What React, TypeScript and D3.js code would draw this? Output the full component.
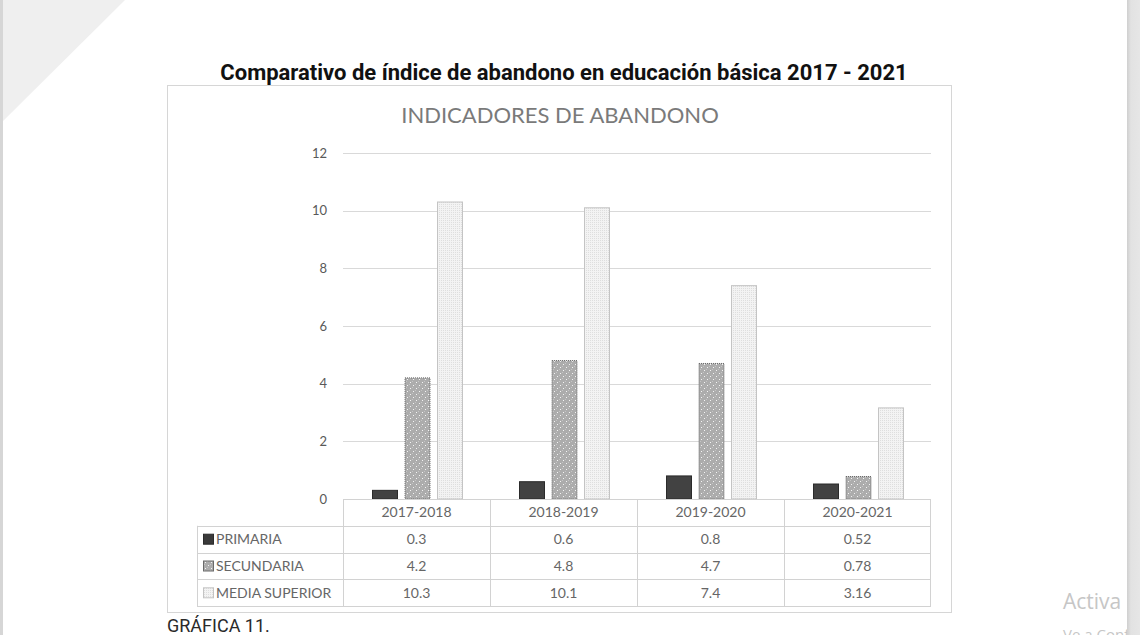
import React from "react";
import * as d3 from "d3";

const periods = ["2017-2018", "2018-2019", "2019-2020", "2020-2021"];
const seriesNames = ["PRIMARIA", "SECUNDARIA", "MEDIA SUPERIOR"];
const primaria = [0.3, 0.6, 0.8, 0.52];
const secundaria = [4.2, 4.8, 4.7, 0.78];
const mediaSuperior = [10.3, 10.1, 7.4, 3.16];
const yTicks = [0, 2, 4, 6, 8, 10, 12];

const seriesValues = [primaria, secundaria, mediaSuperior];
const fills = ["#424242", "url(#patSec)", "url(#patMed)"];
const strokes = ["#2b2b2b", "#6a6a6a", "#c4c4c4"];
const keyFills = ["#3a3a3a", "url(#patSec)", "url(#patMed)"];

const W = 1140;
const H = 635;
const chartFont = "Lato, 'Open Sans', sans-serif";

export default function App() {
  const x = d3.scaleBand().domain(periods).range([343, 931]);
  const xInner = d3
    .scaleBand()
    .domain(seriesNames)
    .range([29, 120])
    .paddingInner(0.2);
  const y = d3.scaleLinear().domain([0, 12]).range([499, 153]);

  const tableTop = 499;
  const rowH = 26.8;
  const labelLeft = 197;

  return (
    <svg
      width={W}
      height={H}
      style={{ position: "absolute", left: 0, top: 0, display: "block" }}
    >
      <defs>
        <pattern id="patSec" width="6" height="6" patternUnits="userSpaceOnUse">
          <rect width="6" height="6" fill="#acacac" />
          <rect x="0" y="0" width="1" height="1" fill="#c4c4c4" />
          <rect x="3" y="3" width="1" height="1" fill="#c4c4c4" />
          <rect x="1" y="4" width="1" height="1" fill="#f4f4f4" />
          <rect x="4" y="1" width="1" height="1" fill="#f4f4f4" />
        </pattern>
        <pattern id="patMed" width="2" height="2" patternUnits="userSpaceOnUse">
          <rect width="2" height="2" fill="#f3f3f3" />
          <rect x="0" y="0" width="1" height="1" fill="#dedede" />
        </pattern>
        <linearGradient id="rightStrip" x1="0" x2="1" y1="0" y2="0">
          <stop offset="0" stopColor="#cfcfcf" />
          <stop offset="0.3" stopColor="#e2e2e2" />
          <stop offset="1" stopColor="#e6e6e6" />
        </linearGradient>
      </defs>

      <rect width={W} height={H} fill="#ffffff" />
      <polygon points="0,0 125,0 0,124" fill="#efefef" />
      <rect x={0} y={0} width={3} height={H} fill="#d6d6d6" />

      {/* watermark, cut by the window edge as in the screenshot */}
      <text
        x={1063}
        y={609}
        fontFamily="'Open Sans', sans-serif"
        fontSize={21}
        fill="#c6c6c6"
      >
        Activa
      </text>
      <text
        x={1063}
        y={640}
        fontFamily="'Open Sans', sans-serif"
        fontSize={15}
        fill="#c6c6c6"
      >
        Ve a Configuración
      </text>
      <rect x={1127} y={0} width={13} height={H} fill="url(#rightStrip)" />

      <text
        x={564}
        y={80}
        textAnchor="middle"
        fontFamily="Roboto, sans-serif"
        fontWeight={700}
        fontSize={22}
        fill="#111111"
      >
        Comparativo de índice de abandono en educación básica 2017 - 2021
      </text>

      {/* chart frame */}
      <rect
        x={167.5}
        y={85.5}
        width={784}
        height={527}
        fill="none"
        stroke="#d6d6d6"
      />

      <text
        x={560}
        y={123}
        textAnchor="middle"
        fontFamily={chartFont}
        fontSize={22}
        fill="#7a7a7a"
      >
        INDICADORES DE ABANDONO
      </text>

      {/* gridlines and y labels */}
      {yTicks.map((t) => (
        <g key={t}>
          <line
            x1={343}
            x2={931}
            y1={Math.round(y(t)) + 0.5}
            y2={Math.round(y(t)) + 0.5}
            stroke="#d9d9d9"
          />
          <text
            x={327}
            y={y(t) + 4.5}
            textAnchor="end"
            fontFamily={chartFont}
            fontSize={13}
            fill="#595959"
          >
            {t}
          </text>
        </g>
      ))}

      {/* bars */}
      {periods.map((p, i) => (
        <g key={p} transform={`translate(${x(p)},0)`}>
          {seriesNames.map((s, k) => {
            const v = seriesValues[k][i];
            return (
              <rect
                key={s}
                x={(xInner(s) ?? 0) + 0.5}
                y={y(v)}
                width={xInner.bandwidth() - 1}
                height={y(0) - y(v)}
                fill={fills[k]}
                stroke={strokes[k]}
                strokeWidth={1}
                strokeDasharray={k === 1 ? "1 1" : undefined}
              />
            );
          })}
        </g>
      ))}

      {/* data table */}
      <g stroke="#d2d2d2" fill="none">
        <line x1={343} x2={931} y1={tableTop + 0.5} y2={tableTop + 0.5} />
        {[1, 2, 3, 4].map((r) => (
          <line
            key={r}
            x1={labelLeft}
            x2={931}
            y1={Math.round(tableTop + r * rowH) + 0.5}
            y2={Math.round(tableTop + r * rowH) + 0.5}
          />
        ))}
        <line
          x1={labelLeft + 0.5}
          x2={labelLeft + 0.5}
          y1={tableTop + rowH}
          y2={tableTop + 4 * rowH}
        />
        {periods.map((p) => (
          <line
            key={p}
            x1={Math.round(x(p) ?? 0) + 0.5}
            x2={Math.round(x(p) ?? 0) + 0.5}
            y1={tableTop}
            y2={tableTop + 4 * rowH}
          />
        ))}
        <line
          x1={930.5}
          x2={930.5}
          y1={tableTop}
          y2={tableTop + 4 * rowH}
        />
      </g>

      {periods.map((p) => (
        <text
          key={p}
          x={(x(p) ?? 0) + x.bandwidth() / 2}
          y={tableTop + rowH / 2 + 5}
          textAnchor="middle"
          fontFamily={chartFont}
          fontSize={14}
          fill="#666666"
        >
          {p}
        </text>
      ))}

      {seriesNames.map((s, k) => {
        const cy = tableTop + (k + 1) * rowH + rowH / 2;
        return (
          <g key={s}>
            <rect
              x={203.5}
              y={cy - 5}
              width={10}
              height={10}
              fill={keyFills[k]}
              stroke={strokes[k]}
            />
            <text
              x={216}
              y={cy + 5}
              fontFamily={chartFont}
              fontSize={14}
              fill="#666666"
            >
              {s}
            </text>
            {periods.map((p, i) => (
              <text
                key={p}
                x={(x(p) ?? 0) + x.bandwidth() / 2}
                y={cy + 5}
                textAnchor="middle"
                fontFamily={chartFont}
                fontSize={14}
                fill="#666666"
              >
                {seriesValues[k][i]}
              </text>
            ))}
          </g>
        );
      })}

      <text
        x={167}
        y={632}
        fontFamily="Roboto, sans-serif"
        fontSize={18}
        fill="#2a2a2a"
      >
        GRÁFICA 11.
      </text>
    </svg>
  );
}
